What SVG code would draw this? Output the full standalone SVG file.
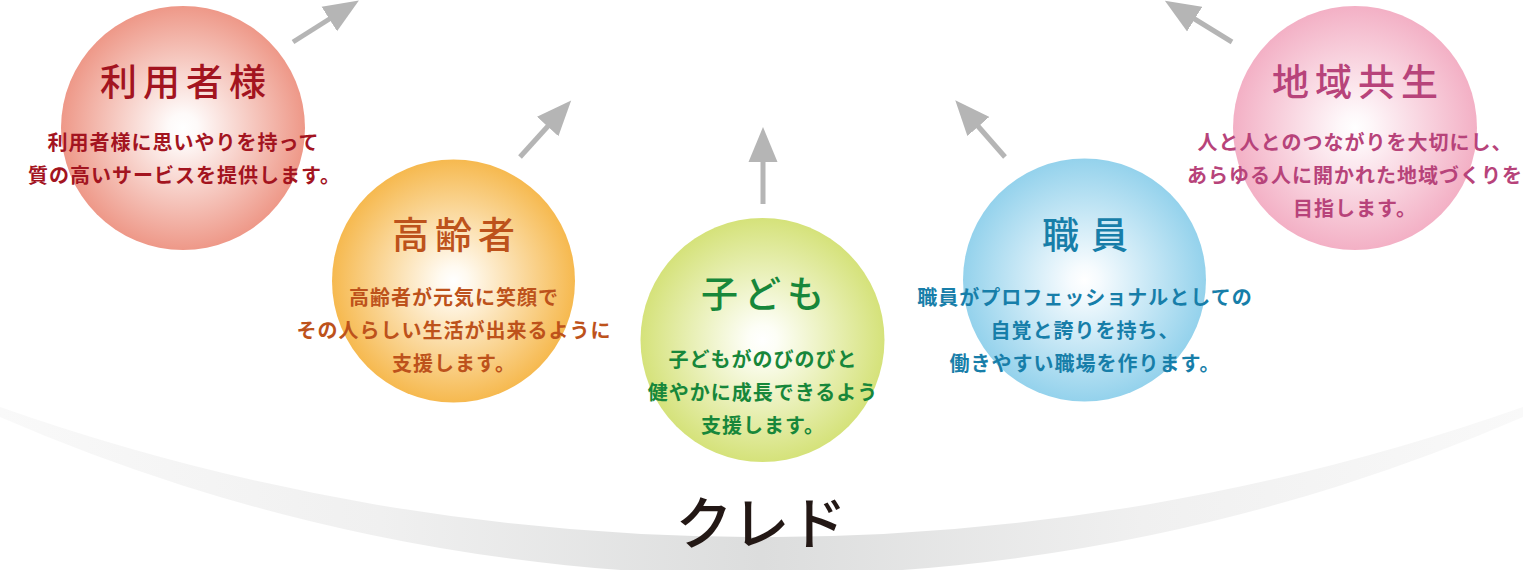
<svg xmlns="http://www.w3.org/2000/svg" width="1523" height="570" viewBox="0 0 1523 570">
  <style>
    .ttl { font-family: "Noto Sans CJK JP", "Noto Sans", sans-serif; font-size: 37px; font-weight: 500; text-anchor: middle; letter-spacing: 6px; }
    .body { font-family: "Noto Sans CJK JP", "Noto Sans", sans-serif; font-size: 20px; font-weight: 700; text-anchor: middle; letter-spacing: 1px; }
    .conn { stroke: #b5b5b5; stroke-width: 5; fill: none; marker-end: url(#ah); }
    .c1 { fill: #a3141f; } .c2 { fill: #bd521b; } .c3 { fill: #17873a; } .c4 { fill: #177ea9; } .c5 { fill: #b7437a; }
  </style>
  <defs>
    <marker id="ah" markerUnits="userSpaceOnUse" markerWidth="36" markerHeight="30" viewBox="0 -15 36 30" refX="2" refY="0" orient="auto">
      <path d="M0,-14.5 L35,0 L0,14.5 Z" fill="#b5b5b5"/>
    </marker>
    <radialGradient id="g1" cx="0.5" cy="0.5" r="0.5"><stop offset="0" stop-color="#ffffff"/><stop offset="0.12" stop-color="#fefaf9"/><stop offset="1" stop-color="#ee9888"/></radialGradient>
    <radialGradient id="g2" cx="0.5" cy="0.5" r="0.5"><stop offset="0" stop-color="#ffffff"/><stop offset="0.12" stop-color="#fffaf0"/><stop offset="1" stop-color="#f6b94f"/></radialGradient>
    <radialGradient id="g3" cx="0.5" cy="0.5" r="0.5"><stop offset="0" stop-color="#ffffff"/><stop offset="0.12" stop-color="#fdfef6"/><stop offset="1" stop-color="#d5e27a"/></radialGradient>
    <radialGradient id="g4" cx="0.5" cy="0.5" r="0.5"><stop offset="0" stop-color="#ffffff"/><stop offset="0.12" stop-color="#f6fbfe"/><stop offset="1" stop-color="#94d2ec"/></radialGradient>
    <radialGradient id="g5" cx="0.5" cy="0.5" r="0.5"><stop offset="0" stop-color="#ffffff"/><stop offset="0.12" stop-color="#fef8fa"/><stop offset="1" stop-color="#f3b0c5"/></radialGradient>
    <linearGradient id="band" x1="0" y1="0" x2="1523" y2="0" gradientUnits="userSpaceOnUse">
      <stop offset="0" stop-color="#f9f9f9"/>
      <stop offset="0.25" stop-color="#f0f0f0"/>
      <stop offset="0.5" stop-color="#dcdddd"/>
      <stop offset="0.75" stop-color="#f0f0f0"/>
      <stop offset="1" stop-color="#f9f9f9"/>
    </linearGradient>
  </defs>

  <g id="band-arc">
    <path d="M0,407 A2292.6,2292.6 0 0 0 1523,407 L1523,417 A1911.8,1911.8 0 0 1 0,417 Z" fill="url(#band)"/>
  </g>

  <g id="credo">
    <text x="761" y="544" font-family="Noto Sans CJK JP, sans-serif" font-size="57" font-weight="500" fill="#231815" text-anchor="middle">クレド</text>
  </g>

  <g id="connectors">
    <line class="conn" x1="293" y1="42" x2="331" y2="18"/>
    <line class="conn" x1="520" y1="157" x2="549" y2="125"/>
    <line class="conn" x1="763" y1="204" x2="763" y2="160"/>
    <line class="conn" x1="1005" y1="157" x2="977" y2="125"/>
    <line class="conn" x1="1232" y1="42" x2="1193" y2="18"/>
  </g>

  <g id="node-riyousha">
    <circle cx="183" cy="128" r="122" fill="url(#g1)"/>
    <text class="ttl c1" x="186" y="96">利用者様</text>
    <text class="body c1" x="183.5" y="150">利用者様に思いやりを持って</text>
    <text class="body c1" x="184.5" y="183">質の高いサービスを提供します。</text>
  </g>

  <g id="node-koureisha">
    <circle cx="453.5" cy="281" r="121.5" fill="url(#g2)"/>
    <text class="ttl c2" x="456.5" y="249">高齢者</text>
    <text class="body c2" x="454" y="305">高齢者が元気に笑顔で</text>
    <text class="body c2" x="454" y="338">その人らしい生活が出来るように</text>
    <text class="body c2" x="454" y="371">支援します。</text>
  </g>

  <g id="node-kodomo">
    <circle cx="762.5" cy="340" r="122" fill="url(#g3)"/>
    <text class="ttl c3" x="765.5" y="308">子ども</text>
    <text class="body c3" x="763" y="367">子どもがのびのびと</text>
    <text class="body c3" x="763" y="400">健やかに成長できるよう</text>
    <text class="body c3" x="763" y="433">支援します。</text>
  </g>

  <g id="node-shokuin">
    <circle cx="1084.5" cy="280" r="121.5" fill="url(#g4)"/>
    <text class="ttl c4" x="1091" y="249" style="letter-spacing:12px">職員</text>
    <text class="body c4" x="1085" y="305">職員がプロフェッショナルとしての</text>
    <text class="body c4" x="1085" y="338">自覚と誇りを持ち、</text>
    <text class="body c4" x="1085" y="371">働きやすい職場を作ります。</text>
  </g>

  <g id="node-chiiki">
    <circle cx="1355" cy="128" r="122" fill="url(#g5)"/>
    <text class="ttl c5" x="1358" y="96">地域共生</text>
    <text class="body c5" x="1355" y="150">人と人とのつながりを大切にし、</text>
    <text class="body c5" x="1355" y="183">あらゆる人に開かれた地域づくりを</text>
    <text class="body c5" x="1355" y="216">目指します。</text>
  </g>
</svg>
